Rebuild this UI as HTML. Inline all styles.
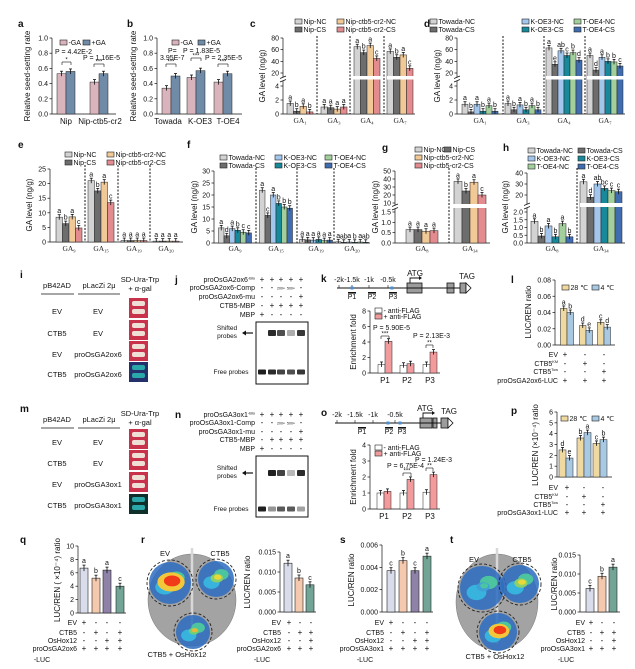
<!DOCTYPE html>
<html><head><meta charset="utf-8"><title>CTB5 GA figure</title>
<style>
html,body{margin:0;padding:0;background:#fff;}
svg{display:block;font-family:"Liberation Sans",Arial,sans-serif;}
</style></head>
<body>
<svg id="fig" xmlns="http://www.w3.org/2000/svg" width="635" height="669" viewBox="0 0 635 669"></svg>
<script>
/* ---------------- DATA ---------------- */
const gaCatsC=['1','3','4','7'];
const gaCatsE=['9','15','19','20'];
const gaCatsG=['8','34'];
const aCats=['Nip','Nip-ctb5-cr2'];
const aMinusGA=[0.53,0.42];
const aPlusGA=[0.56,0.53];
const bCats=['Towada','K-OE3','T-OE4'];
const bMinusGA=[0.34,0.48,0.42];
const bPlusGA=[0.50,0.57,0.53];
const cNipNC=[1.5,1.0,65,57];
const cNipCS=[0.4,0.9,55,47];
const cCrNC=[1.1,0.7,67,51];
const cCrCS=[0.3,1.0,45,28];
const cLetters=[['a','b','a','b'],['a','a','a','a'],['a','b','a','c'],['a','b','a','c']];
const dTowNC=[1.4,1.5,63,50];
const dTowCS=[0.3,0.6,35,25];
const dKNC=[1.4,1.3,58,47];
const dKCS=[0.4,0.6,50,40];
const dTNC=[1.2,1.2,55,39];
const dTCS=[0.4,0.6,42,32];
const dLetters=[['a','b','a','b','a','b'],['a','b','a','b','a','b'],['a','e','ab','c','b','d'],['a','d','a','b','b','c']];
const eNipNC=[8.5,21,0.5,0.3];
const eNipCS=[6.3,17.5,0.5,0.3];
const eCrNC=[8.6,20.5,0.5,0.3];
const eCrCS=[4.8,13.5,0.5,0.3];
const eLetters=[['a','b','a','c'],['a','b','a','c'],['a','a','a','a'],['a','a','a','a']];
const fTowNC=[6.3,22,1.5,0.5];
const fTowCS=[3,11.5,1.3,0.3];
const fKNC=[6,20,1.2,0.4];
const fKCS=[5.3,16.5,1.5,0.3];
const fTNC=[4.5,15,1.0,0.4];
const fTCS=[4.2,14.5,1.2,0.3];
const fLetters=[['a','d','a','b','c','c'],['a','c','a','b','b','b'],['a','a','a','a','a','a'],['a','ab','a','b','a','ab']];
const gNipNC=[0.65,37];
const gNipCS=[0.65,25];
const gCrNC=[0.57,36];
const gCrCS=[0.6,20];
const gLetters=[['a','a','a','a'],['a','b','a','c']];
const hTowNC=[1.4,32];
const hTowCS=[0.45,18];
const hKNC=[1.1,30];
const hKCS=[0.4,26];
const hTNC=[1.25,24];
const hTCS=[0.4,23];
const hLetters=[['a','b','a','b','a','b'],['a','d','ab','bc','c','c']];
const kCats=['P1','P2','P3'];
const kMinus=[1.1,1.0,1.1];
const kPlus=[4.1,1.2,2.7];
const l28=[0.045,0.024,0.028];
const l4=[0.040,0.018,0.022];
const lLetters=[['a','b'],['d','e'],['c','d']];
const oMinus=[1.0,1.0,1.05];
const oPlus=[1.1,1.85,2.15];
const p28=[2.5,3.6,3.1];
const p4=[1.75,4.1,3.45];
const pLetters=[['d','e'],['b','a'],['c','b']];
const qVals=[6.7,5.2,6.4,4.0];
const qLetters=['a','b','a','c'];
const rVals=[0.0122,0.0085,0.0068];
const rLetters=['a','b','c'];
const sVals=[0.0037,0.0046,0.0037,0.0050];
const sLetters=['c','b','c','a'];
const tVals=[0.0062,0.0094,0.0118];
const tLetters=['c','b','a'];
const ticksA=[0,0.2,0.4,0.6,0.8,1.0];
const ticksCLow=[0,2,4];
const ticksCHigh=[20,40,60,80];
const ticksE=[0,5,10,15,20,25];
const ticksF=[0,5,10,15,20,25,30];
const ticksGLow=[0,0.5,1.0,1.5];
const ticksGHigh=[10,20,30,40,50];
const ticksHLow=[0,0.5,1.0,1.5,2.0];
const ticksHHigh=[20,30,40];

/* ---------------- HELPERS ---------------- */
const NS='http://www.w3.org/2000/svg';
const svg=document.getElementById('fig');
function el(tag,attrs,name,parent){
  const e=document.createElementNS(NS,tag);
  for(const k in attrs) e.setAttribute(k,attrs[k]);
  
  
  (parent||svg).appendChild(e);
  return e;
}
function T(x,y,s,o){
  o=o||{};
  const a={x:x,y:y,'font-size':o.fs||7,fill:o.c||'#111'};
  if(o.a) a['text-anchor']=o.a;
  if(o.w) a['font-weight']=o.w;
  if(o.rot) a.transform='rotate(-90 '+x+' '+y+')';
  if(o.ff) a['font-family']=o.ff;
  const e=el('text',a,o.n||'label');
  e.textContent=s;
  return e;
}
function L(x1,y1,x2,y2,o){
  o=o||{};
  const a={x1:x1,y1:y1,x2:x2,y2:y2,stroke:o.c||'#111','stroke-width':o.sw||0.7};
  if(o.d) a['stroke-dasharray']=o.d;
  return el('line',a,o.n||'line');
}
function R(x,y,w,h,fill,o){
  o=o||{};
  const a={x:x,y:y,width:w,height:h,fill:fill};
  if(o.s){a.stroke=o.s;a['stroke-width']=o.sw||0.5;}
  if(o.rx) a.rx=o.rx;
  return el('rect',a,o.n||'rect');
}
function panelLabel(x,y,s){ T(x,y,s,{fs:10,w:'bold',n:'panel-label-'+s}); }
function fmt(v,d){ return v.toFixed(d); }
function yAxis(x,ticks,f,dec,name){
  const vals=ticks;
  L(x,f(vals[vals.length-1]),x,f(vals[0]),{n:name+'-y-axis'});
  vals.forEach(v=>{
    L(x-2.5,f(v),x,f(v),{n:name+'-tick'});
    T(x-4,f(v)+2.5,fmt(v,dec),{a:'end',fs:7,n:name+'-tick-label'});
  });
}
function xAxis(x0,x1,y,name){ L(x0,y,x1,y,{n:name+'-x-axis'}); }
function broken(lowMax,p0,pLow,hiMin,pHi,hiMax,pTop){
  return v => v<=lowMax ? p0-(v/lowMax)*(p0-pLow) : pHi-((v-hiMin)/(hiMax-hiMin))*(pHi-pTop);
}
function lin(vMax,p0,pTop){ return v => p0-(v/vMax)*(p0-pTop); }
function bars(name,centers,series,colors,w,f,letters){
  const n=series.length;
  centers.forEach((cx,gi)=>{
    series.forEach((arr,si)=>{
      const v=arr[gi];
      const x=cx-n*w/2+si*w;
      const y=f(v), y0=f(0);
      R(x,y,w,Math.max(0.5,y0-y),colors[si],{s:'#222',sw:0.5,n:name+'-bar'});
      const bx=x+w/2;
      L(bx,y-2.5,bx,Math.min(y+2.5,y0),{sw:0.8,n:name+'-error-bar'});
      L(bx-1.5,y-2.5,bx+1.5,y-2.5,{sw:0.8,n:name+'-error-cap'});
      if(letters){
        const lt=letters[gi][si];
        if(lt) T(bx,y-4,lt,{a:'middle',fs:7,n:name+'-sig-letter'});
      }
    });
  });
}
function singleBars(name,centers,vals,colors,w,f,letters){
  centers.forEach((cx,i)=>{
    const v=vals[i], y=f(v), y0=f(0);
    R(cx-w/2,y,w,y0-y,colors[i],{s:'#222',sw:0.6,n:name+'-bar'});
    L(cx,y-3,cx,y+3,{sw:0.8,n:name+'-error-bar'});
    L(cx-1.5,y-3,cx+1.5,y-3,{sw:0.8,n:name+'-error-cap'});
    T(cx,y-5,letters[i],{a:'middle',fs:7,n:name+'-sig-letter'});
  });
}
function gaLabel(x,y,sub,name){
  const t=el('text',{x:x,y:y,'font-size':7.5,'text-anchor':'middle','font-family':'"Liberation Serif",serif',fill:'#222'},name);
  t.textContent='GA';
  const s=el('tspan',{'font-size':4.5,dy:1.5},name+'-subscript',t);
  s.textContent=sub;
}
function legend(x,y,color,label,name){
  R(x,y-5,7,5,color,{s:'#222',sw:0.6,n:name+'-swatch'});
  T(x+8.5,y,label,{fs:7,n:name+'-text'});
}
function breakGap(x,y,h){
  R(x-4,y,8,h,'#fff',{n:'axis-break-gap'});
  L(x-3,y+1.5,x+3,y-1,{sw:0.7,n:'axis-break-mark'});
  L(x-3,y+h+1,x+3,y+h-1.5,{sw:0.7,n:'axis-break-mark'});
}
function table(rows,xr,cols,ys,name){
  rows.forEach((r,i)=>{
    const t=T(xr,ys[i],r[0],{a:'end',fs:7,n:name+'-row-label'});
    if(r[2]){ const s=el('tspan',{'font-size':3.8,dy:-3},name+'-superscript',t); s.textContent=r[2]; }
    r[1].split('').forEach((c,j)=>{ T(cols[j],ys[i],c==='+'?'+':'-',{a:'middle',fs:8,n:name+'-symbol'}); });
  });
}
function sigBracket(x1,x2,y,h,stars,name){
  L(x1,y+h,x1,y,{sw:0.6,n:name+'-bracket'});L(x1,y,x2,y,{sw:0.6,n:name+'-bracket'});L(x2,y,x2,y+h,{sw:0.6,n:name+'-bracket'});
  T((x1+x2)/2,y-0.5,stars,{a:'middle',fs:6,n:name+'-stars'});
}
const C={lg:'#d3d3d3',dg:'#6d6d6d',tan:'#f0c996',pk:'#e48b90',lb:'#a3c6ec',tl:'#17899a',gr:'#a3cf9d',bl:'#3f6db0',pinkA:'#d9b4bd',blueA:'#6f8ba8'};

/* ---------------- PANEL a ---------------- */
panelLabel(18,27,'a');
const fA=lin(1,114,38);
yAxis(52,ticksA,fA,1,'panel-a');
xAxis(52,116,114,'panel-a');
bars('panel-a',[66,99],[aMinusGA,aPlusGA],[C.pinkA,C.blueA],9,fA,null);
aCats.forEach((c,i)=>T([66,100][i],124,c,{a:'middle',fs:8,n:'panel-a-x-label'}));
T(30,76,'Relative seed-setting rate',{rot:1,a:'middle',fs:8,n:'panel-a-y-title'});
legend(60,45,C.pinkA,'-GA','panel-a-legend');legend(83,45,C.blueA,'+GA','panel-a-legend');
T(55,54,'P = 4.42E-2',{fs:7,n:'panel-a-p-value'});T(83,60,'P = 1.16E-5',{fs:7,n:'panel-a-p-value'});
sigBracket(62,71,62,3,'*','panel-a');sigBracket(94,104,64,3,'***','panel-a');

/* ---------------- PANEL b ---------------- */
panelLabel(127,27,'b');
const fB=lin(1,114,38);
yAxis(157,ticksA,fB,1,'panel-b');
xAxis(157,242,114,'panel-b');
bars('panel-b',[171,196,223],[bMinusGA,bPlusGA],[C.pinkA,C.blueA],9,fB,null);
bCats.forEach((c,i)=>T([168,200,228][i],124,c,{a:'middle',fs:8,n:'panel-b-x-label'}));
T(136,76,'Relative seed-setting rate',{rot:1,a:'middle',fs:8,n:'panel-b-y-title'});
legend(172,45,C.pinkA,'-GA','panel-b-legend');legend(198,45,C.blueA,'+GA','panel-b-legend');
T(168,53,'P=',{fs:7,n:'panel-b-p-value'});T(183,53,'P = 1.83E-5',{fs:7,n:'panel-b-p-value'});
T(160,60,'3.95E-7',{fs:7,n:'panel-b-p-value'});T(205,60,'P = 2.35E-5',{fs:7,n:'panel-b-p-value'});
sigBracket(166,176,64,3,'***','panel-b');sigBracket(191,201,58,3,'***','panel-b');sigBracket(218,228,64,3,'***','panel-b');

/* ---------------- PANEL c ---------------- */
panelLabel(250,27,'c');
const fC=broken(4,114,86,20,73,80,38);
yAxis(283,ticksCLow,fC,0,'panel-c');
yAxis(283,ticksCHigh,fC,0,'panel-c-upper');
L(283,86,283,73,{n:'panel-c-y-axis'});
breakGap(283,77,4);
xAxis(283,415,114,'panel-c');
[317,350,384].forEach(x=>L(x,36,x,114,{d:'2,1.5',sw:1,n:'panel-c-group-divider'}));
bars('panel-c',[300,334,367,400],[cNipNC,cNipCS,cCrNC,cCrCS],[C.lg,C.dg,C.tan,C.pk],6.5,fC,cLetters);
R(353,76,30,3.5,'#fff',{n:'panel-c-break-band'});R(387,76,28,3.5,'#fff',{n:'panel-c-break-band'});
gaCatsC.forEach((g,i)=>gaLabel([300,334,367,400][i],123,g,'panel-c-x-label'));
T(265,76,'GA level (ng/g)',{rot:1,a:'middle',fs:8,n:'panel-c-y-title'});
legend(295,24,C.lg,'Nip-NC','panel-c-legend');legend(295,32,C.dg,'Nip-CS','panel-c-legend');
legend(337,24,C.tan,'Nip-ctb5-cr2-NC','panel-c-legend');legend(337,32,C.pk,'Nip-ctb5-cr2-CS','panel-c-legend');

/* ---------------- PANEL d ---------------- */
panelLabel(424,27,'d');
const fD=broken(4,114,86,20,73,80,38);
yAxis(457,ticksCLow,fD,0,'panel-d');
yAxis(457,ticksCHigh,fD,0,'panel-d-upper');
L(457,86,457,73,{n:'panel-d-y-axis'});
breakGap(457,77,4);
xAxis(457,625,114,'panel-d');
[503,544,585].forEach(x=>L(x,36,x,114,{d:'2,1.5',sw:1,n:'panel-d-group-divider'}));
bars('panel-d',[480,523,564,605],[dTowNC,dTowCS,dKNC,dKCS,dTNC,dTCS],[C.lg,C.dg,C.lb,C.tl,C.gr,C.bl],6,fD,dLetters);
R(546,76,37,3.5,'#fff',{n:'panel-d-break-band'});R(587,76,37,3.5,'#fff',{n:'panel-d-break-band'});
gaCatsC.forEach((g,i)=>gaLabel([480,523,564,605][i],123,g,'panel-d-x-label'));
T(440,76,'GA level (ng/g)',{rot:1,a:'middle',fs:8,n:'panel-d-y-title'});
legend(430,24,C.lg,'Towada-NC','panel-d-legend');legend(430,32,C.dg,'Towada-CS','panel-d-legend');
legend(522,24,C.lb,'K-OE3-NC','panel-d-legend');legend(522,32,C.tl,'K-OE3-CS','panel-d-legend');
legend(574,24,C.gr,'T-OE4-NC','panel-d-legend');legend(574,32,C.bl,'T-OE4-CS','panel-d-legend');

/* ---------------- PANEL e ---------------- */
panelLabel(18,148,'e');
const fE=lin(25,242,169);
yAxis(50,ticksE,fE,0,'panel-e');
xAxis(50,183,242,'panel-e');
[85,118,150].forEach(x=>L(x,165,x,242,{d:'2,1.5',sw:1,n:'panel-e-group-divider'}));
bars('panel-e',[69,101,134,166],[eNipNC,eNipCS,eCrNC,eCrCS],[C.lg,C.dg,C.tan,C.pk],6.5,fE,eLetters);
gaCatsE.forEach((g,i)=>gaLabel([69,101,134,166][i],251,g,'panel-e-x-label'));
T(32,205,'GA level (ng/g)',{rot:1,a:'middle',fs:8,n:'panel-e-y-title'});
legend(65,157,C.lg,'Nip-NC','panel-e-legend');legend(65,165,C.dg,'Nip-CS','panel-e-legend');
legend(107,157,C.tan,'Nip-ctb5-cr2-NC','panel-e-legend');legend(107,165,C.pk,'Nip-ctb5-cr2-CS','panel-e-legend');

/* ---------------- PANEL f ---------------- */
panelLabel(187,148,'f');
const fF=lin(30,243,171);
yAxis(214,ticksF,fF,0,'panel-f');
xAxis(214,370,243,'panel-f');
[256,297,334].forEach(x=>L(x,168,x,243,{d:'2,1.5',sw:1,n:'panel-f-group-divider'}));
bars('panel-f',[235,276,316,352],[fTowNC,fTowCS,fKNC,fKCS,fTNC,fTCS],[C.lg,C.dg,C.lb,C.tl,C.gr,C.bl],5.5,fF,fLetters);
gaCatsE.forEach((g,i)=>gaLabel([235,276,316,352][i],251,g,'panel-f-x-label'));
T(197,207,'GA level (ng/g)',{rot:1,a:'middle',fs:8,n:'panel-f-y-title'});
legend(220,160,C.lg,'Towada-NC','panel-f-legend');legend(220,168,C.dg,'Towada-CS','panel-f-legend');
legend(275,160,C.lb,'K-OE3-NC','panel-f-legend');legend(275,168,C.tl,'K-OE3-CS','panel-f-legend');
legend(325,160,C.gr,'T-OE4-NC','panel-f-legend');legend(325,168,C.bl,'T-OE4-CS','panel-f-legend');

/* ---------------- PANEL g ---------------- */
panelLabel(382,151,'g');
const fG=broken(1.5,243,212,10,203,50,171);
yAxis(395,ticksGLow,fG,1,'panel-g');
yAxis(395,ticksGHigh,fG,0,'panel-g-upper');
L(395,212,395,203,{n:'panel-g-y-axis'});
breakGap(395,205,4);
xAxis(395,490,243,'panel-g');
L(449,168,449,243,{d:'2,1.5',sw:1,n:'panel-g-group-divider'});
bars('panel-g',[422,470],[gNipNC,gNipCS,gCrNC,gCrCS],[C.lg,C.dg,C.tan,C.pk],8,fG,gLetters);
R(452,204,37,4,'#fff',{n:'panel-g-break-band'});
gaCatsG.forEach((g,i)=>gaLabel([422,470][i],251,g,'panel-g-x-label'));
T(378,207,'GA level (ng/g)',{rot:1,a:'middle',fs:8,n:'panel-g-y-title'});
legend(415,152,C.lg,'Nip-NC','panel-g-legend');legend(444,152,C.dg,'Nip-CS','panel-g-legend');
legend(415,160,C.tan,'Nip-ctb5-cr2-NC','panel-g-legend');legend(415,168,C.pk,'Nip-ctb5-cr2-CS','panel-g-legend');

/* ---------------- PANEL h ---------------- */
panelLabel(503,151,'h');
const fH=broken(2,243,212,20,195,40,173);
yAxis(527,ticksHLow,fH,1,'panel-h');
yAxis(527,ticksHHigh,fH,0,'panel-h-upper');
L(527,212,527,195,{n:'panel-h-y-axis'});
breakGap(527,204,4);
xAxis(527,625,243,'panel-h');
L(577,168,577,243,{d:'2,1.5',sw:1,n:'panel-h-group-divider'});
bars('panel-h',[552,601],[hTowNC,hTowCS,hKNC,hKCS,hTNC,hTCS],[C.lg,C.dg,C.lb,C.tl,C.gr,C.bl],7,fH,hLetters);
R(580,203,44,4,'#fff',{n:'panel-h-break-band'});
gaCatsG.forEach((g,i)=>gaLabel([552,601][i],251,g,'panel-h-x-label'));
T(508,207,'GA level (ng/g)',{rot:1,a:'middle',fs:8,n:'panel-h-y-title'});
legend(528,153,C.lg,'Towada-NC','panel-h-legend');legend(578,153,C.dg,'Towada-CS','panel-h-legend');
legend(528,161,C.lb,'K-OE3-NC','panel-h-legend');legend(578,161,C.tl,'K-OE3-CS','panel-h-legend');
legend(528,169,C.gr,'T-OE4-NC','panel-h-legend');legend(578,169,C.bl,'T-OE4-CS','panel-h-legend');

/* ---------------- PANELS i / m (Y1H) ---------------- */
function y1h(letter,top,rows,boxTops,textYs,blueLast){
  panelLabel(20,top,letter);
  T(57,top+10,'pB42AD',{a:'middle',fs:7.5,n:'panel-'+letter+'-header'});
  T(99,top+10,'pLacZi 2μ',{a:'middle',fs:7.5,n:'panel-'+letter+'-header'});
  L(41,top+16,74,top+16,{sw:0.8,n:'panel-'+letter+'-header-rule'});L(78,top+16,120,top+16,{sw:0.8,n:'panel-'+letter+'-header-rule'});
  T(140,top+4,'SD-Ura-Trp',{a:'middle',fs:7.5,n:'panel-'+letter+'-header'});
  T(140,top+13,'+ α-gal',{a:'middle',fs:7.5,n:'panel-'+letter+'-header'});
  rows.forEach((r,i)=>{
    T(57,textYs[i],r[0],{a:'middle',fs:7.5,n:'panel-'+letter+'-row-label'});
    T(98,textYs[i],r[1],{a:'middle',fs:7.5,n:'panel-'+letter+'-row-label'});
    const blue=(i===3);
    R(129,boxTops[i],19,20,blue?(blueLast):'#c8324a',{n:'panel-'+letter+'-yeast-plate'});
    const sp=blue?'#2aa7a8':'#efe0d6';
    R(132,boxTops[i]+3,13,5,sp,{rx:2,n:'panel-'+letter+'-yeast-spot'});
    R(132,boxTops[i]+11,13,5,sp,{rx:2,n:'panel-'+letter+'-yeast-spot'});
  });
}
y1h('i',278,[['EV','EV'],['CTB5','EV'],['EV','proOsGA2ox6'],['CTB5','proOsGA2ox6']],[298,320,341,362],[314,336,357,377],'#23306b');
y1h('m',412,[['EV','EV'],['CTB5','EV'],['EV','proOsGA3ox1'],['CTB5','proOsGA3ox1']],[429,450,472,494],[445,466,487,508],'#0f2f2a');

/* ---------------- PANELS j / n (EMSA) ---------------- */
function emsa(letter,names,rowsY,gel,shiftY,freeY,shiftInt,freeInt){
  panelLabel(175,rowsY[0]+1,letter);
  const syms=[['+','+','+','+','+'],['-','-','200×','500×','-'],['-','-','-','-','+'],['-','+','+','+','+'],['+','-','-','-','-']];
  const cols=[262,272,281,291,301];
  names.forEach((nm,i)=>{
    const t=T(255,rowsY[i],nm,{a:'end',fs:7,n:'panel-'+letter+'-condition-label'});
    if(i===0){const s=el('tspan',{'font-size':4,dy:-2.5},'panel-'+letter+'-superscript',t);s.textContent='-Bio';}
    syms[i].forEach((c,j)=>T(cols[j],rowsY[i]+(c.length>1?-0.5:0),c,{a:'middle',fs:c.length>1?3.5:8,n:'panel-'+letter+'-symbol'}));
  });
  R(gel[0],gel[1],52,gel[2],'#fff',{s:'#111',sw:1,n:'panel-'+letter+'-gel'});
  cols.forEach((x,j)=>{
    if(shiftInt[j]>0) R(x-4,shiftY-3,8,6,'rgba(20,20,20,'+shiftInt[j]+')',{rx:1,n:'panel-'+letter+'-shifted-band'});
    R(x-4,freeY-2.5,8,5,'rgba(20,20,20,'+freeInt[j]+')',{rx:1,n:'panel-'+letter+'-free-band'});
  });
  T(227,shiftY-3,'Shifted',{a:'middle',fs:6.5,n:'panel-'+letter+'-shifted-label'});
  T(227,shiftY+5,'probes',{a:'middle',fs:6.5,n:'panel-'+letter+'-shifted-label'});
  L(243,shiftY,253,shiftY,{sw:1.2,n:'panel-'+letter+'-arrow'});
  el('path',{d:'M242 '+shiftY+' l4 -2.5 v5 z',fill:'#111'},'panel-'+letter+'-arrow-head');
  T(231,freeY+2,'Free probes',{a:'middle',fs:6.5,n:'panel-'+letter+'-free-label'});
}
emsa('j',['proOsGA2ox6','proOsGA2ox6-Comp','proOsGA2ox6-mu','CTB5-MBP','MBP'],[282,290,299,308,317],[256,322,62],333,372,[0,0.9,0.75,0.35,0.85],[0.95,0.9,0.8,0.75,0.85]);
emsa('n',['proOsGA3ox1','proOsGA3ox1-Comp','proOsGA3ox1-mu','CTB5-MBP','MBP'],[417,425,434,442,451],[256,456,61],473,509,[0,0.95,0.8,0.3,0.9],[0.95,0.45,0.7,0.7,0.4]);

/* ---------------- PANELS k / o (gene + ChIP) ---------------- */
function gene(letter,y,ticksX,tickLab,blueX,pX,tss,exons,atgX,tagX){
  L(ticksX[0]-2,y,tss,y,{sw:0.9,n:'panel-'+letter+'-promoter-line'});
  tickLab.forEach((s,i)=>{T(ticksX[i],y-6,s,{a:'middle',fs:7,n:'panel-'+letter+'-position-label'});L(ticksX[i],y-3,ticksX[i],y,{sw:0.6,n:'panel-'+letter+'-position-tick'});});
  blueX.forEach(x=>R(x-1.5,y-1.5,3,3,'#4a8fd6',{n:'panel-'+letter+'-binding-site'}));
  ['P1','P2','P3'].forEach((p,i)=>{R(pX[i]-4,y+4,8,1.6,'#111',{n:'panel-'+letter+'-primer'});T(pX[i],y+11,p,{a:'middle',fs:7,n:'panel-'+letter+'-primer-label'});});
  exons.forEach((e,i)=>R(e[0],y-5,e[1],10,'#9c9c9c',{s:'#111',sw:0.8,n:'panel-'+letter+'-exon'}));
  L(exons[0][0],y,exons[exons.length-1][0],y,{sw:0.9,n:'panel-'+letter+'-gene-line'});
  const last=exons[exons.length-1];
  el('path',{d:'M'+(last[0]+last[1])+' '+(y-5)+' l5 5 l-5 5 z',fill:'#fff',stroke:'#111','stroke-width':0.8},'panel-'+letter+'-gene-end');
  el('path',{d:'M'+(tss+3)+' '+(y-5)+' v-5 h10',fill:'none',stroke:'#111','stroke-width':0.9},'panel-'+letter+'-tss-arrow');
  el('path',{d:'M'+(tss+15)+' '+(y-10)+' l-3 -2 v4 z',fill:'#111'},'panel-'+letter+'-tss-arrow-head');
  T(atgX,y-12,'ATG',{a:'middle',fs:8,n:'panel-'+letter+'-atg'});
  T(tagX,y-9,'TAG',{a:'middle',fs:8,n:'panel-'+letter+'-tag'});
}
panelLabel(321,282,'k');
gene('k',288,[339,352,369,388],['-2k','-1.5k','-1k','-0.5k'],[352,392],[352,372,393],407,[[407,15],[447,7],[460,6]],415,467);
const fK=lin(8,373,311);
yAxis(370,[0,2,4,6,8],fK,0,'panel-k');
xAxis(370,440,373,'panel-k');
bars('panel-k',[385,407,430],[kMinus,kPlus],['#ffffff','#f39b9c'],7,fK,null);
kCats.forEach((c,i)=>T([385,407,430][i],383,c,{a:'middle',fs:8,n:'panel-k-x-label'}));
T(356,342,'Enrichment fold',{rot:1,a:'middle',fs:8,n:'panel-k-y-title'});
legend(375,313,'#ffffff','- anti-FLAG','panel-k-legend');legend(375,319,'#f39b9c','+ anti-FLAG','panel-k-legend');
T(373,330,'P = 5.90E-5',{fs:7,n:'panel-k-p-value'});T(413,338,'P = 2.13E-3',{fs:7,n:'panel-k-p-value'});
sigBracket(381,389,336,3,'***','panel-k');sigBracket(426,433,345,3,'**','panel-k');

panelLabel(321,416,'o');
gene('o',423,[337,355,373,395],['-2k','-1.5k','-1k','-0.5k'],[388,400],[362,389,402],420,[[420,12],[433,4],[441,7]],425,449);
const fO=lin(4,509,445);
yAxis(370,[0,1,2,3,4],fO,0,'panel-o');
xAxis(370,440,509,'panel-o');
bars('panel-o',[384,407,430],[oMinus,oPlus],['#ffffff','#f39b9c'],7,fO,null);
kCats.forEach((c,i)=>T([384,407,430][i],519,c,{a:'middle',fs:8,n:'panel-o-x-label'}));
T(356,477,'Enrichment fold',{rot:1,a:'middle',fs:8,n:'panel-o-y-title'});
legend(375,450,'#ffffff','- anti-FLAG','panel-o-legend');legend(375,456,'#f39b9c','+ anti-FLAG','panel-o-legend');
T(415,462,'P = 1.24E-3',{fs:7,n:'panel-o-p-value'});T(387,468,'P = 6.75E-4',{fs:7,n:'panel-o-p-value'});
sigBracket(403,411,473,3,'***','panel-o');sigBracket(426,433,468,3,'**','panel-o');

/* ---------------- PANEL l ---------------- */
panelLabel(511,283,'l');
const fL=lin(0.08,345,280);
yAxis(555,[0,0.02,0.04,0.06,0.08],fL,2,'panel-l');
xAxis(555,615,345,'panel-l');
bars('panel-l',[567,586,604],[l28,l4],['#efd9a0','#a9c9e3'],6.5,fL,lLetters);
T(531,312,'LUC/REN ratio',{rot:1,a:'middle',fs:8,n:'panel-l-y-title'});
legend(562,290,'#efd9a0','28 ℃','panel-l-legend');legend(592,290,'#a9c9e3','4 ℃','panel-l-legend');
table([['EV','+--'],['CTB5','-+-','KM'],['CTB5','--+','Tow'],['proOsGA2ox6-LUC','+++']],558,[565,585,604],[357,366,374,383],'panel-l');

/* ---------------- PANEL p ---------------- */
panelLabel(511,414,'p');
const fP=lin(6,477,412);
yAxis(557,[0,1,2,3,4,5,6],fP,0,'panel-p');
xAxis(557,612,477,'panel-p');
bars('panel-p',[566,584,600],[p28,p4],['#efd9a0','#a9c9e3'],7,fP,pLetters);
T(538,445,'LUC/REN (×10⁻⁴) ratio',{rot:1,a:'middle',fs:8,n:'panel-p-y-title'});
legend(561,421,'#efd9a0','28 ℃','panel-p-legend');legend(592,421,'#a9c9e3','4 ℃','panel-p-legend');
table([['EV','+--'],['CTB5','-+-','KM'],['CTB5','--+','Tow'],['proOsGA3ox1-LUC','+++']],558,[567,584,603],[490,499,507,515],'panel-p');

/* ---------------- PANEL q ---------------- */
const qColors=['#d9dcea','#f4c9ad','#8f82a9','#72a596'];
const rColors=['#d9dcea','#f4c9ad','#72a596'];
const rowY=[625,635,643,651,662];
panelLabel(20,543,'q');
const fQ=lin(10,613,546);
yAxis(78,[0,2,4,6,8,10],fQ,0,'panel-q');
xAxis(78,126,613,'panel-q');
singleBars('panel-q',[84,96,107,120],qVals,qColors,8,fQ,qLetters);
T(60,580,'LUC/REN ( ×10⁻⁴) ratio',{rot:1,a:'middle',fs:8,n:'panel-q-y-title'});
table([['EV','+---'],['CTB5','-+-+'],['OsHox12','--++'],['proOsGA2ox6','++++']],77,[84,96,107,120],rowY.slice(0,4),'panel-q');
T(42,rowY[4],'-LUC',{a:'middle',fs:7,n:'panel-q-row-label'});

/* ---------------- leaves ---------------- */
function leaf(name,cx,cy,rx,ry,blobs){
  el('ellipse',{cx:cx,cy:cy,rx:rx,ry:ry,fill:'#a3a3a3',stroke:'#777','stroke-width':0.5},name+'-leaf');
  L(cx,cy-ry-6,cx,cy+ry-6,{c:'#d8d8d8',sw:2.5,n:name+'-midrib'});
  blobs.forEach(b=>{
    const x=b[0],y=b[1],r=b[2];
    el('circle',{cx:x,cy:y,r:r,fill:'#2b6cc0','fill-opacity':0.85},name+'-signal');
    el('ellipse',{cx:x-r*0.25,cy:y+r*0.2,rx:r*0.45,ry:r*0.35,fill:'#38b3dd'},name+'-signal');
    el('ellipse',{cx:x+r*0.3,cy:y-r*0.25,rx:r*0.4,ry:r*0.3,fill:'#4cc4a0'},name+'-signal');
    el('ellipse',{cx:x+r*0.05,cy:y-r*0.05,rx:r*b[5],ry:r*b[5]*0.7,fill:b[3]},name+'-signal');
    el('ellipse',{cx:x+r*0.1,cy:y-r*0.1,rx:r*b[5]*0.6,ry:r*b[5]*0.4,fill:b[4]},name+'-signal');
    el('circle',{cx:x,cy:y,r:r+2,fill:'none',stroke:'#222','stroke-width':0.9,'stroke-dasharray':'3,2'},name+'-infiltration-outline');
  });
}
panelLabel(141,543,'r');
leaf('panel-r',192,600,44,46,[[170,583,21,'#f2c83a','#f03a1a',0.65],[216,579,18,'#8ad06a','#e8d83a',0.35],[193,632,17,'#6ad07a','#e8b83a',0.3]]);
T(165,556,'EV',{a:'middle',fs:7.5,c:'#111',n:'panel-r-ev-label'});
T(220,556,'CTB5',{a:'middle',fs:7.5,c:'#111',n:'panel-r-ctb5-label'});
T(177,657,'CTB5 + OsHox12',{a:'middle',fs:7.5,n:'panel-r-bottom-label'});
const fR=lin(0.015,612,552);
yAxis(280,[0,0.005,0.010,0.015],fR,3,'panel-r');
xAxis(280,316,612,'panel-r');
singleBars('panel-r',[288,299,310],rVals,rColors,8,fR,rLetters);
T(250,582,'LUC/REN ratio',{rot:1,a:'middle',fs:8,n:'panel-r-y-title'});
table([['EV','+--'],['CTB5','-++'],['OsHox12','--+'],['proOsGA2ox6','+++']],281,[289,300,311],rowY.slice(0,4),'panel-r');
T(262,rowY[4],'-LUC',{a:'middle',fs:7,n:'panel-r-row-label'});

/* ---------------- PANEL s ---------------- */
panelLabel(340,543,'s');
const fS=lin(0.006,612,545);
yAxis(382,[0,0.002,0.004,0.006],fS,3,'panel-s');
xAxis(382,433,612,'panel-s');
singleBars('panel-s',[391,403,415,427],sVals,qColors,8,fS,sLetters);
T(354,580,'LUC/REN ratio',{rot:1,a:'middle',fs:8,n:'panel-s-y-title'});
table([['EV','+---'],['CTB5','-+-+'],['OsHox12','--++'],['proOsGA3ox1','++++']],384,[391,403,415,427],rowY.slice(0,4),'panel-s');
T(365,rowY[4],'-LUC',{a:'middle',fs:7,n:'panel-s-row-label'});

/* ---------------- PANEL t ---------------- */
panelLabel(450,543,'t');
leaf('panel-t',497,602,41,48,[[482,588,22,'#3fa0d8','#4cc4a0',0.3],[520,584,19,'#8ad06a','#e8d83a',0.35],[498,632,19,'#f2c83a','#f03a1a',0.55]]);
T(474,562,'EV',{a:'middle',fs:7.5,n:'panel-t-ev-label'});
T(522,562,'CTB5',{a:'middle',fs:7.5,n:'panel-t-ctb5-label'});
T(495,659,'CTB5 + OsHox12',{a:'middle',fs:7.5,n:'panel-t-bottom-label'});
const fT=lin(0.015,612,555);
yAxis(580,[0,0.005,0.010,0.015],fT,3,'panel-t');
xAxis(580,620,612,'panel-t');
singleBars('panel-t',[590,602,613],tVals,rColors,8,fT,tLetters);
T(557,584,'LUC/REN ratio',{rot:1,a:'middle',fs:8,n:'panel-t-y-title'});
table([['EV','+--'],['CTB5','-++'],['OsHox12','--+'],['proOsGA3ox1','+++']],585,[591,602,614],rowY.slice(0,4),'panel-t');
T(566,rowY[4],'-LUC',{a:'middle',fs:7,n:'panel-t-row-label'});
</script>
</body></html>
